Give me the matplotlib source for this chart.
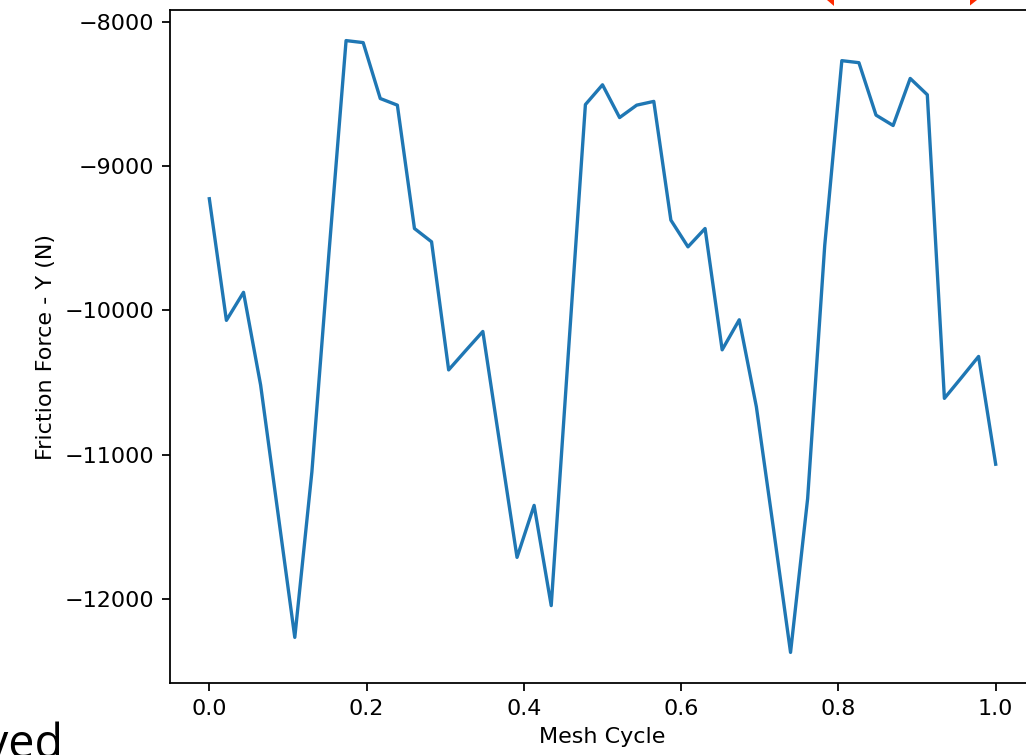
import numpy as np
import matplotlib
matplotlib.use("Agg")
import matplotlib.pyplot as plt
from matplotlib.patches import Polygon

# ---- data ----
mesh_cycle = np.arange(47) / 46.0
friction_y = [
    -9227, -10069, -9875, -10516, -11390, -12264, -11118, -9600,
    -8132, -8146, -8533, -8579, -9433, -9525, -10412, -10278,
    -10146, -10930, -11710, -11350, -12044, -10300, -8575, -8438,
    -8665, -8579, -8553, -9375, -9560, -9433, -10273, -10065,
    -10667, -11510, -12368, -11303, -9550, -8271, -8285, -8648,
    -8720, -8394, -8507, -10609, -10465, -10319, -11065,
]
x_label = "Mesh Cycle"
y_label = "Friction Force - Y (N)"
side_text = "ved"

W, H, DPI = 1026, 755, 160
fig = plt.figure(figsize=(W / DPI, H / DPI), dpi=DPI)
ax = fig.add_axes([170 / W, 72 / H, 865 / W, 673 / H])
ax.plot(mesh_cycle, friction_y, color="#1f77b4", lw=1.5)
ax.set_xlabel(x_label)
ax.set_ylabel(y_label)

# screenshot remnants: slide text and red shape corners
fig.text(63 / W, -3 / H, side_text, ha="right", va="baseline",
         fontsize=21, family="Open Sans", color="black")
for pts in ([(826.5, 0), (833.5, 0), (833.5, 5.5)],
            [(970, 0), (977, 0), (970, 5.5)]):
    fig.add_artist(Polygon([(px / W, 1 - py / H) for px, py in pts],
                           closed=True, transform=fig.transFigure,
                           color="#ff2a00", lw=0))

fig.savefig("out.png", dpi=DPI)
